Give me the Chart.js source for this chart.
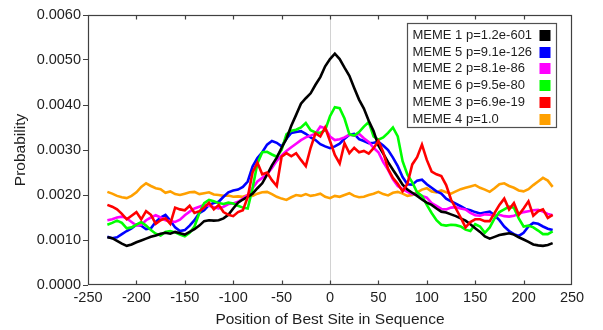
<!DOCTYPE html>
<html>
<head>
<meta charset="utf-8">
<script src="https://cdn.jsdelivr.net/npm/chart.js@4/dist/chart.umd.min.js"></script>
<style>
  html, body { margin: 0; padding: 0; background: #fff; }
  #wrap { width: 603px; height: 330px; }
</style>
</head>
<body>
<div id="wrap"><canvas id="c" width="603" height="330"></canvas></div>
<script>
// Position of the best site relative to the sequence centre
const positions = [
  -230,-225,-220,-215,-210,-205,-200,-195,-190,-185,
  -180,-175,-170,-165,-160,-155,-150,-145,-140,-135,
  -130,-125,-120,-115,-110,-105,-100,-95,-90,-85,
  -80,-75,-70,-65,-60,-55,-50,-45,-40,-35,
  -30,-25,-20,-15,-10,-5,0,5,10,15,
  20,25,30,35,40,45,50,55,60,65,
  70,75,80,85,90,95,100,105,110,115,
  120,125,130,135,140,145,150,155,160,165,
  170,175,180,185,190,195,200,205,210,215,
  220,225,230
];

// Site probability per motif
const meme1 = [
  0.00106,0.00104,0.00098,0.00092,0.00087,0.00090,0.00095,0.00099,0.00103,0.00107,
  0.00110,0.00114,0.00116,0.00114,0.00118,0.00115,0.00112,0.00118,0.00124,0.00132,
  0.00142,0.00144,0.00143,0.00144,0.00148,0.00156,0.00170,0.00183,0.00190,0.00196,
  0.00203,0.00215,0.00226,0.00245,0.00266,0.00283,0.00305,0.00325,0.00354,0.00378,
  0.00403,0.00415,0.00426,0.00445,0.00462,0.00486,0.00502,0.00514,0.00502,0.00483,
  0.00465,0.00438,0.00412,0.00392,0.00365,0.00342,0.00310,0.00292,0.00273,0.00256,
  0.00240,0.00223,0.00212,0.00205,0.00198,0.00190,0.00183,0.00178,0.00170,0.00163,
  0.00161,0.00157,0.00153,0.00148,0.00143,0.00135,0.00126,0.00118,0.00108,0.00103,
  0.00107,0.00111,0.00113,0.00115,0.00112,0.00106,0.00101,0.00096,0.00090,0.00088,
  0.00087,0.00089,0.00093
];
const meme5 = [
  0.00107,0.00104,0.00106,0.00113,0.00120,0.00126,0.00134,0.00132,0.00124,0.00126,
  0.00140,0.00150,0.00156,0.00143,0.00128,0.00120,0.00122,0.00132,0.00144,0.00160,
  0.00166,0.00178,0.00182,0.00185,0.00196,0.00206,0.00210,0.00212,0.00218,0.00230,
  0.00263,0.00282,0.00295,0.00312,0.00320,0.00316,0.00308,0.00325,0.00338,0.00340,
  0.00342,0.00336,0.00328,0.00322,0.00313,0.00308,0.00304,0.00308,0.00314,0.00325,
  0.00334,0.00336,0.00324,0.00320,0.00315,0.00316,0.00318,0.00310,0.00300,0.00283,
  0.00264,0.00240,0.00224,0.00223,0.00232,0.00234,0.00224,0.00216,0.00208,0.00203,
  0.00192,0.00186,0.00181,0.00175,0.00169,0.00166,0.00162,0.00159,0.00161,0.00163,
  0.00155,0.00144,0.00130,0.00120,0.00113,0.00109,0.00116,0.00130,0.00138,0.00136,
  0.00130,0.00125,0.00122
];
const meme2 = [
  0.00144,0.00146,0.00150,0.00152,0.00148,0.00140,0.00132,0.00134,0.00144,0.00150,
  0.00155,0.00150,0.00144,0.00142,0.00140,0.00145,0.00155,0.00163,0.00170,0.00174,
  0.00178,0.00176,0.00173,0.00170,0.00174,0.00180,0.00181,0.00185,0.00192,0.00200,
  0.00215,0.00230,0.00238,0.00246,0.00260,0.00276,0.00288,0.00298,0.00306,0.00314,
  0.00322,0.00328,0.00332,0.00336,0.00352,0.00348,0.00330,0.00322,0.00324,0.00328,
  0.00334,0.00332,0.00336,0.00326,0.00318,0.00305,0.00295,0.00273,0.00256,0.00235,
  0.00220,0.00213,0.00207,0.00202,0.00203,0.00198,0.00194,0.00182,0.00176,0.00169,
  0.00168,0.00172,0.00173,0.00170,0.00168,0.00160,0.00155,0.00154,0.00157,0.00156,
  0.00154,0.00156,0.00153,0.00152,0.00154,0.00158,0.00162,0.00164,0.00166,0.00167,
  0.00163,0.00158,0.00155
];
const meme6 = [
  0.00134,0.00138,0.00143,0.00138,0.00126,0.00128,0.00134,0.00140,0.00132,0.00122,
  0.00114,0.00110,0.00118,0.00120,0.00117,0.00112,0.00108,0.00116,0.00130,0.00160,
  0.00182,0.00189,0.00186,0.00182,0.00180,0.00183,0.00181,0.00176,0.00172,0.00170,
  0.00215,0.00270,0.00295,0.00296,0.00290,0.00285,0.00300,0.00335,0.00343,0.00345,
  0.00350,0.00360,0.00344,0.00339,0.00338,0.00344,0.00375,0.00395,0.00393,0.00370,
  0.00335,0.00332,0.00340,0.00352,0.00362,0.00330,0.00323,0.00328,0.00338,0.00350,
  0.00330,0.00275,0.00245,0.00228,0.00206,0.00198,0.00178,0.00160,0.00144,0.00134,
  0.00132,0.00134,0.00133,0.00130,0.00123,0.00120,0.00135,0.00130,0.00116,0.00128,
  0.00148,0.00162,0.00168,0.00174,0.00172,0.00148,0.00130,0.00132,0.00128,0.00121,
  0.00113,0.00113,0.00119
];
const meme3 = [
  0.00178,0.00174,0.00168,0.00158,0.00146,0.00154,0.00162,0.00146,0.00164,0.00156,
  0.00136,0.00144,0.00148,0.00136,0.00172,0.00168,0.00166,0.00176,0.00160,0.00164,
  0.00172,0.00183,0.00168,0.00178,0.00162,0.00156,0.00153,0.00162,0.00166,0.00195,
  0.00250,0.00272,0.00246,0.00250,0.00233,0.00220,0.00285,0.00293,0.00286,0.00293,
  0.00278,0.00264,0.00305,0.00337,0.00330,0.00350,0.00320,0.00289,0.00270,0.00315,
  0.00293,0.00305,0.00295,0.00298,0.00292,0.00304,0.00320,0.00295,0.00258,0.00238,
  0.00225,0.00208,0.00225,0.00268,0.00284,0.00312,0.00278,0.00252,0.00246,0.00242,
  0.00222,0.00190,0.00170,0.00150,0.00128,0.00140,0.00146,0.00146,0.00142,0.00142,
  0.00160,0.00178,0.00192,0.00168,0.00182,0.00156,0.00170,0.00186,0.00154,0.00164,
  0.00168,0.00149,0.00156
];
const meme4 = [
  0.00207,0.00203,0.00198,0.00195,0.00193,0.00198,0.00206,0.00218,0.00226,0.00220,
  0.00215,0.00213,0.00205,0.00208,0.00202,0.00200,0.00203,0.00206,0.00207,0.00202,
  0.00204,0.00206,0.00201,0.00200,0.00198,0.00199,0.00196,0.00197,0.00196,0.00200,
  0.00198,0.00203,0.00206,0.00207,0.00202,0.00196,0.00192,0.00189,0.00195,0.00200,
  0.00198,0.00202,0.00198,0.00200,0.00203,0.00196,0.00193,0.00198,0.00196,0.00200,
  0.00204,0.00198,0.00195,0.00196,0.00200,0.00203,0.00207,0.00202,0.00199,0.00205,
  0.00207,0.00203,0.00198,0.00200,0.00206,0.00212,0.00215,0.00208,0.00206,0.00210,
  0.00206,0.00203,0.00208,0.00213,0.00216,0.00219,0.00222,0.00216,0.00212,0.00207,
  0.00215,0.00224,0.00226,0.00220,0.00216,0.00210,0.00208,0.00213,0.00222,0.00230,
  0.00238,0.00232,0.00218
];

const seriesLabels = [
  'MEME 1 p=1.2e-601',
  'MEME 5 p=9.1e-126',
  'MEME 2 p=8.1e-86',
  'MEME 6 p=9.5e-80',
  'MEME 3 p=6.9e-19',
  'MEME 4 p=1.0'
];
const seriesValues = [meme1, meme5, meme2, meme6, meme3, meme4];
const seriesColors = ['#000000', '#0000ff', '#ff00ff', '#00ff00', '#ff0000', '#ffa000'];
const seriesOrder = [1, 4, 3, 2, 0, 5]; // lower draws on top

const xTickValues = [-250, -200, -150, -100, -50, 0, 50, 100, 150, 200, 250];
const yTickValues = [0, 0.001, 0.002, 0.003, 0.004, 0.005, 0.006];

const FONT = "'Liberation Sans', Arial, Helvetica, sans-serif";
const TEXT = '#1e1e1e';
const AXIS = '#404040';

const datasets = seriesLabels.map((label, i) => ({
  label,
  data: positions.map((x, k) => ({ x, y: seriesValues[i][k] })),
  borderColor: seriesColors[i],
  backgroundColor: seriesColors[i],
  borderWidth: 2.6,
  pointRadius: 0,
  tension: 0,
  fill: false,
  order: seriesOrder[i]
}));

// Frame round the plot with inward ticks along top and bottom edges
const framePlugin = {
  id: 'frame',
  afterDatasetsDraw(chart) {
    const { ctx, chartArea: a, scales: { x } } = chart;
    const L = Math.round(a.left) + 0.5, R = Math.round(a.right) - 0.5;
    const T = Math.round(a.top) + 0.5, B = Math.round(a.bottom) - 0.5;
    ctx.save();
    ctx.strokeStyle = AXIS;
    ctx.lineWidth = 1.2;
    ctx.strokeRect(L, T, R - L, B - T);
    ctx.beginPath();
    x.ticks.forEach(t => {
      if (t.value === x.min || t.value === x.max) return;
      const px = Math.round(x.getPixelForValue(t.value)) + 0.5;
      ctx.moveTo(px, B); ctx.lineTo(px, B - 4);
      ctx.moveTo(px, T); ctx.lineTo(px, T + 4);
    });
    ctx.stroke();
    ctx.restore();
  }
};

// Boxed legend: label text on the left, colour swatch on the right
const legendPlugin = {
  id: 'boxLegend',
  afterDraw(chart) {
    const { ctx, chartArea: a } = chart;
    const boxW = 149, boxH = 104;
    const bx = Math.round(a.right) - 16 - boxW + 0.5;
    const by = Math.round(a.top) + 8 + 0.5;
    ctx.save();
    ctx.fillStyle = '#ffffff';
    ctx.fillRect(bx, by, boxW, boxH);
    ctx.strokeStyle = '#505050';
    ctx.lineWidth = 1.2;
    ctx.strokeRect(bx, by, boxW, boxH);
    ctx.font = '13px ' + FONT;
    ctx.textBaseline = 'middle';
    ctx.textAlign = 'left';
    chart.data.datasets.forEach((ds, i) => {
      const cy = by + 12 + i * 16.7;
      ctx.fillStyle = TEXT;
      ctx.fillText(ds.label, bx + 5, cy);
      ctx.fillStyle = ds.borderColor;
      ctx.fillRect(bx + boxW - 17, Math.round(cy - 5.5), 11, 11);
    });
    ctx.restore();
  }
};

new Chart(document.getElementById('c'), {
  type: 'line',
  data: { datasets },
  options: {
    responsive: false,
    animation: false,
    devicePixelRatio: 1,
    layout: { padding: { left: 0, right: 31, top: 15, bottom: 0 } },
    plugins: { legend: { display: false }, tooltip: { enabled: false } },
    scales: {
      x: {
        type: 'linear',
        min: -250, max: 250,
        afterBuildTicks: s => { s.ticks = xTickValues.map(v => ({ value: v })); },
        afterFit: s => { s.height = 45; },
        border: { display: false },
        grid: {
          drawTicks: false,
          lineWidth: 1,
          color: c => (c.tick && c.tick.value === 0) ? '#d2d2d2' : 'rgba(0,0,0,0)'
        },
        ticks: {
          autoSkip: false, maxRotation: 0, padding: 4,
          color: TEXT, font: { family: FONT, size: 14.5 },
          callback: v => String(v)
        },
        title: {
          display: true, text: 'Position of Best Site in Sequence',
          color: TEXT, font: { family: FONT, size: 15.5 },
          padding: { top: 0, bottom: 1 }
        }
      },
      y: {
        type: 'linear',
        min: 0, max: 0.006,
        afterBuildTicks: s => { s.ticks = yTickValues.map(v => ({ value: v })); },
        afterFit: s => { s.width = 88; },
        border: { display: false },
        grid: { drawOnChartArea: false, drawTicks: true, tickLength: 5, color: AXIS, lineWidth: 1 },
        ticks: {
          padding: 2, color: TEXT, font: { family: FONT, size: 14.5 },
          callback: v => v.toFixed(4)
        },
        title: {
          display: true, text: 'Probability',
          color: TEXT, font: { family: FONT, size: 15.5 },
          padding: { top: 11, bottom: 0 }
        }
      }
    }
  },
  plugins: [framePlugin, legendPlugin]
});
</script>
</body>
</html>
